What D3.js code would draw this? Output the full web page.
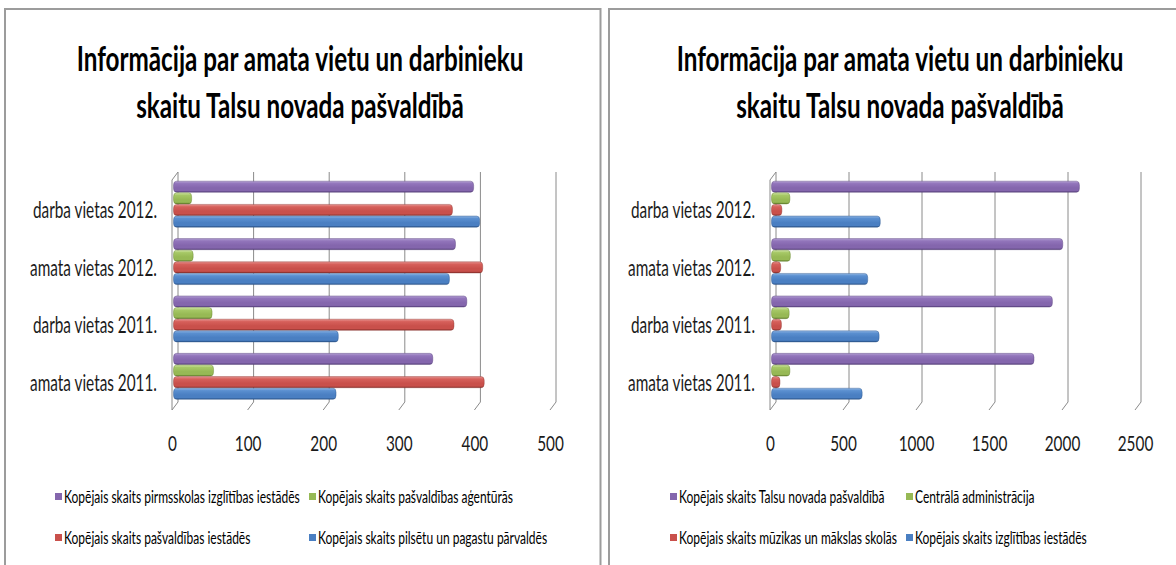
<!DOCTYPE html>
<html><head><meta charset="utf-8">
<script src="https://cdn.jsdelivr.net/npm/d3@7/dist/d3.min.js"></script>
<style>body{margin:0;background:#fff}svg{display:block}</style>
</head><body>
<svg id="c" width="1176" height="565"></svg>
<script>
// ---------- data ----------
const titleLines = ["Informācija par amata vietu un darbinieku", "skaitu Talsu novada pašvaldībā"];
const categories = ["darba vietas 2012.", "amata vietas 2012.", "darba vietas 2011.", "amata vietas 2011."];

const leftSeriesNames = [
  "Kopējais skaits pirmsskolas izglītības iestādēs",
  "Kopējais skaits pašvaldības aģentūrās",
  "Kopējais skaits pašvaldības iestādēs",
  "Kopējais skaits pilsētu un pagastu pārvaldēs"
];
const leftPirmsskolas = [397, 373, 388, 343];
const leftAgenturas   = [24, 26, 51, 53];
const leftIestades    = [369, 409, 371, 411];
const leftParvaldes   = [405, 365, 218, 215];
const leftTicks = [0, 100, 200, 300, 400, 500];

const rightSeriesNames = [
  "Kopējais skaits Talsu novada pašvaldībā",
  "Centrālā administrācija",
  "Kopējais skaits mūzikas un mākslas skolās",
  "Kopējais skaits izglītības iestādēs"
];
const rightKopa       = [2109, 1995, 1924, 1798];
const rightCentrala   = [126, 129, 121, 126];
const rightMuzikas    = [71, 63, 68, 58];
const rightIzglitibas = [745, 659, 737, 621];
const rightTicks = [0, 500, 1000, 1500, 2000, 2500];

const seriesColors = ["purple", "green", "red", "blue"];

// ---------- style / layout ----------
const palette = {
  purple: ["#b39fd3", "#9275bb", "#8466ad", "#56407a"],
  green:  ["#d2e6a8", "#a6c866", "#97b955", "#607d2c"],
  red:    ["#e89491", "#d6605b", "#c9504b", "#88302c"],
  blue:   ["#8fb5e3", "#5a8fd0", "#4a7fc2", "#2a5389"]
};
const FONT = "Lato, 'Open Sans', 'DejaVu Sans', sans-serif";
const svg = d3.select("#c");
const defs = svg.append("defs");
Object.entries(palette).forEach(([k, c]) => {
  const g = defs.append("linearGradient").attr("id", "g-" + k)
    .attr("x1", 0).attr("y1", 0).attr("x2", 0).attr("y2", 1);
  [[0, c[0]], [0.22, c[1]], [0.6, c[2]], [0.85, c[2]], [1, c[3]]].forEach(([o, col]) =>
    g.append("stop").attr("offset", o).attr("stop-color", col));
});

function measure(text, size, weight) {
  const t = svg.append("text").attr("font-family", FONT).attr("font-size", size)
    .attr("font-weight", weight || "normal").text(text);
  const w = t.node().getComputedTextLength();
  t.remove();
  return w;
}
// horizontally condense text (the reference uses a narrow face)
function squeeze(sel, factor) {
  sel.each(function () {
    const s = d3.select(this);
    const x = +(s.attr("x") || 0), y = +(s.attr("y") || 0);
    s.attr("x", 0).attr("y", 0)
      .attr("transform", `translate(${x},${y}) scale(${factor},1)`);
  });
}
const TITLE_SIZE = 34, CAT_SIZE = 23, TICK_SIZE = 22, LEG_SIZE = 16.5;
const titleFactor = 447 / measure(titleLines[0], TITLE_SIZE, "bold");
const catFactor = 127 / measure(categories[3], CAT_SIZE);
const tickFactor = 127 / measure(categories[3], TICK_SIZE);
const legFactor = 236 / measure(leftSeriesNames[0], LEG_SIZE);

// panel borders
svg.append("path").attr("d", "M5,575 V9 H600.5 V575").attr("fill", "none")
  .attr("stroke", "#9c9c9c").attr("stroke-width", 2);
svg.append("path").attr("d", "M609,575 V9 H1190").attr("fill", "none")
  .attr("stroke", "#9c9c9c").attr("stroke-width", 2);

const DX = 6, DY = -8;        // 3D depth offset (front -> back)
const backTop = 172, frontBottom = 410;

function drawPanel(cfg) {
  const g = svg.append("g");
  // title
  const tt = g.append("g").selectAll("text").data(titleLines).join("text")
    .attr("x", cfg.cx).attr("y", (d, i) => 71 + i * 47)
    .attr("text-anchor", "middle").attr("font-family", FONT)
    .attr("font-size", TITLE_SIZE).attr("font-weight", "bold").attr("fill", "#000")
    .text(d => d);
  squeeze(tt, titleFactor);

  const x = d3.scaleLinear().domain([0, cfg.ticks[cfg.ticks.length - 1]]).range([cfg.x0, cfg.x1]);
  const y = d3.scaleBand().domain(categories).range([176, 405]).paddingInner(0.19).paddingOuter(0.09);
  const ys = d3.scaleBand().domain(d3.range(cfg.series.length)).range([0, y.bandwidth()]);

  // grid (back wall + floor feet)
  const grid = g.append("g").attr("stroke", "#8a8a8a").attr("stroke-width", 1).attr("fill", "none");
  cfg.ticks.forEach(t => {
    const xf = x(t), xb = xf + DX;
    grid.append("path").attr("d", `M${xb},${backTop} V${frontBottom + DY} L${xf},${frontBottom}`);
  });
  // left side wall
  grid.append("path").attr("d", `M${x(0) + DX},${backTop} L${x(0)},${backTop - DY} V${frontBottom}`);

  // bars
  const gb = g.append("g");
  categories.forEach((c, ci) => {
    cfg.series.forEach((vals, si) => {
      const v = vals[ci];
      gb.append("rect")
        .attr("x", x(0) + 1.5).attr("y", y(c) + ys(si))
        .attr("width", x(v) - x(0)).attr("height", ys.bandwidth() - 0.5)
        .attr("rx", 3).attr("ry", 4)
        .attr("fill", `url(#g-${seriesColors[si]})`)
        .attr("stroke", palette[seriesColors[si]][3]).attr("stroke-width", 0.4);
    });
  });

  // category labels
  const cl = g.append("g").selectAll("text").data(categories).join("text")
    .attr("x", x(0) - 15).attr("y", d => y(d) + y.bandwidth() / 2 + 14)
    .attr("text-anchor", "end").attr("font-family", FONT).attr("font-size", CAT_SIZE)
    .attr("fill", "#1a1a1a").text(d => d);
  squeeze(cl, catFactor);

  // value axis
  const ax = g.append("g").attr("transform", "translate(0,435)")
    .call(d3.axisBottom(x).tickValues(cfg.ticks).tickSize(0).tickPadding(0).tickFormat(d3.format("d")));
  ax.select(".domain").remove();
  ax.selectAll("text").attr("font-family", FONT).attr("font-size", TICK_SIZE).attr("fill", "#1a1a1a");
  squeeze(ax.selectAll("text"), tickFactor);

  // legend
  const lg = g.append("g");
  cfg.names.forEach((n, i) => {
    const col = i % 2, row = Math.floor(i / 2);
    const lx = cfg.legX[col], ly = 497 + row * 41;
    lg.append("rect").attr("x", lx).attr("y", ly - 4).attr("width", 7).attr("height", 7)
      .attr("fill", palette[seriesColors[i]][2]);
    lg.append("text").attr("x", lx + 9).attr("y", ly + 5.5)
      .attr("font-family", FONT).attr("font-size", LEG_SIZE).attr("fill", "#000").text(n);
  });
  squeeze(lg.selectAll("text"), legFactor);
}

drawPanel({
  cx: 300, x0: 172, x1: 550, ticks: leftTicks,
  series: [leftPirmsskolas, leftAgenturas, leftIestades, leftParvaldes],
  names: leftSeriesNames, legX: [55, 309]
});
drawPanel({
  cx: 900, x0: 770, x1: 1135, ticks: rightTicks,
  series: [rightKopa, rightCentrala, rightMuzikas, rightIzglitibas],
  names: rightSeriesNames, legX: [670, 906]
});
</script>
</body></html>
